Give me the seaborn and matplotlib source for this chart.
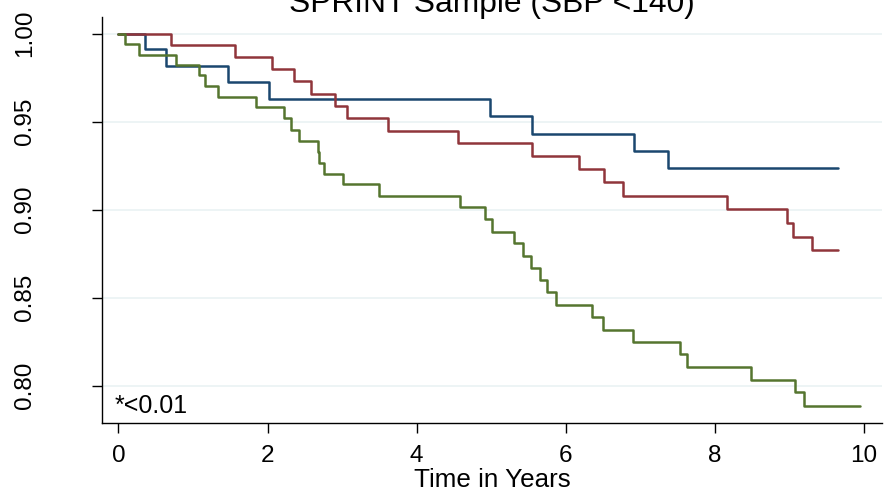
import numpy as np
import pandas as pd
import matplotlib
matplotlib.use("Agg")
import matplotlib.pyplot as plt
import seaborn as sns

# Kaplan-Meier style survival curves
blue_t = [0, 0.35, 0.64, 1.47, 2.02, 4.98, 5.54, 6.91, 7.37, 9.65]
blue_s = [1.0, 0.991, 0.9816, 0.9722, 0.9627, 0.9529, 0.943, 0.9332, 0.9234, 0.9234]

red_t = [0, 0.70, 1.56, 2.06, 2.35, 2.58, 2.90, 3.06, 3.62, 4.55, 5.54, 6.18,
         6.51, 6.76, 8.16, 8.96, 9.05, 9.30, 9.65]
red_s = [1.0, 0.9934, 0.9866, 0.9796, 0.9729, 0.9657, 0.9587, 0.9519, 0.9449,
         0.9377, 0.9305, 0.9228, 0.9154, 0.9079, 0.9001, 0.8925, 0.8846, 0.8768, 0.8768]

green_t = [0, 0.09, 0.28, 0.77, 1.08, 1.16, 1.34, 1.85, 2.22, 2.32, 2.42, 2.68,
           2.69, 2.76, 3.01, 3.49, 4.58, 4.92, 5.01, 5.31, 5.42, 5.53, 5.65, 5.75,
           5.87, 6.35, 6.50, 6.90, 7.53, 7.63, 8.48, 9.07, 9.20, 9.95]
green_s = [1.0, 0.9941, 0.9879, 0.982, 0.9762, 0.9701, 0.964, 0.958, 0.9518,
           0.9451, 0.9391, 0.9328, 0.9266, 0.9203, 0.9143, 0.9077, 0.9012, 0.8945,
           0.8874, 0.8808, 0.8736, 0.8666, 0.8598, 0.853, 0.846, 0.8392, 0.8318,
           0.8246, 0.8178, 0.8104, 0.8034, 0.7963, 0.7885, 0.7885]

x_ticks = [0, 2, 4, 6, 8, 10]
y_ticks = [0.80, 0.85, 0.90, 0.95, 1.00]

df = pd.concat([
    pd.DataFrame({"t": blue_t, "s": blue_s, "grp": "blue"}),
    pd.DataFrame({"t": red_t, "s": red_s, "grp": "red"}),
    pd.DataFrame({"t": green_t, "s": green_s, "grp": "green"}),
])
colors = {"blue": "#1a476f", "red": "#90353b", "green": "#55752f"}

sns.set_theme(style="white")
plt.rcParams["font.family"] = ["Liberation Sans", "DejaVu Sans"]

fig = plt.figure(figsize=(8.85, 4.97), dpi=100)
ax = fig.add_axes([102 / 885, 1 - 423 / 497, 780 / 885, 406 / 497])

sns.lineplot(data=df, x="t", y="s", hue="grp", palette=colors, estimator=None,
             drawstyle="steps-post", linewidth=1.8, legend=False, ax=ax)

ax.set_xlim(-0.221, 10.24)
ax.set_ylim(0.7787, 1.0094)
ax.set_xticks(x_ticks)
ax.set_yticks(y_ticks)
ax.set_yticklabels([f"{v:.2f}" for v in y_ticks], rotation=90, va="center")
# seaborn's white style hides the tick marks, so switch them back on
ax.tick_params(axis="both", bottom=True, left=True, direction="out", length=7.2,
               width=1, color="black", labelsize=17.5, labelcolor="black")
ax.tick_params(axis="x", pad=8.5)
ax.tick_params(axis="y", pad=40)

for v in y_ticks:
    ax.axhline(v, color="#eaf2f3", linewidth=1.2, zorder=0)

for side in ["top", "right"]:
    ax.spines[side].set_visible(False)
for side in ["left", "bottom"]:
    ax.spines[side].set_color("black")
    ax.spines[side].set_linewidth(1.0)

ax.set_xlabel("Time in Years", fontsize=18.7, color="black", labelpad=1)
ax.set_ylabel("")
ax.text(-0.05, 0.7843, "*<0.01", fontsize=18, va="baseline", ha="left", color="black")

# the title runs off the top edge, as in the original chart
fig.text(491.5 / 885, 1 - 12.3 / 497, "SPRINT Sample (SBP <140)", fontsize=22.9,
         ha="center", va="baseline", color="black")

fig.savefig("out.png", dpi=100, facecolor="white")
